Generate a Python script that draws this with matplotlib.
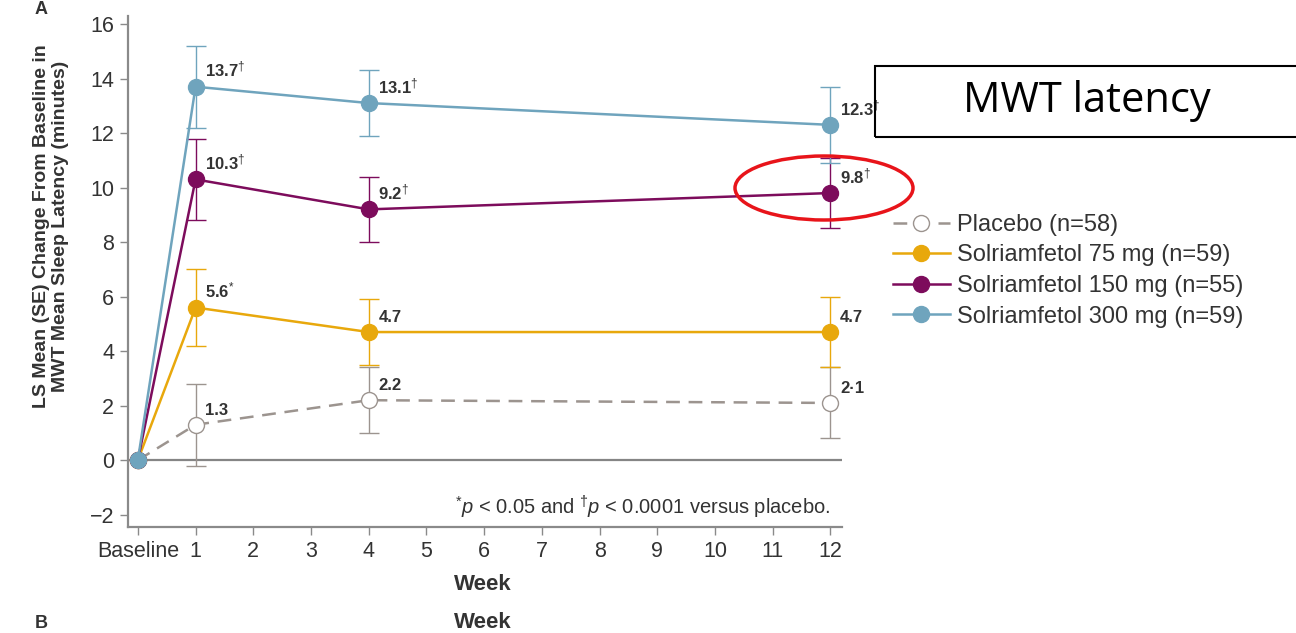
import matplotlib
matplotlib.use("Agg")
import matplotlib.pyplot as plt
from matplotlib.patches import Ellipse, Rectangle

plt.rcParams['font.family'] = ['Liberation Sans', 'DejaVu Sans']
plt.rcParams['mathtext.fontset'] = 'custom'
plt.rcParams['mathtext.rm'] = 'Liberation Sans'
plt.rcParams['mathtext.it'] = 'Liberation Sans:italic'
plt.rcParams['mathtext.bf'] = 'Liberation Sans:bold'

# Weeks of assessment (0 = baseline)
weeks = [0, 1, 4, 12]
xtick_labels = ["Baseline", "1", "2", "3", "4", "5", "6", "7", "8", "9", "10", "11", "12"]

series_names = ["Placebo (n=58)", "Solriamfetol 75 mg (n=59)",
                "Solriamfetol 150 mg (n=55)", "Solriamfetol 300 mg (n=59)"]
placebo = [0, 1.3, 2.2, 2.1]
sol75 = [0, 5.6, 4.7, 4.7]
sol150 = [0, 10.3, 9.2, 9.8]
sol300 = [0, 13.7, 13.1, 12.3]

placebo_se = [0, 1.5, 1.2, 1.3]
sol75_se = [0, 1.4, 1.2, 1.3]
sol150_se = [0, 1.5, 1.2, 1.3]
sol300_se = [0, 1.5, 1.2, 1.4]

placebo_lbl = ["", "1.3", "2.2", "2·1"]
sol75_lbl = ["", "5.6$^{*}$", "4.7", "4.7"]
sol150_lbl = ["", "10.3$^{\\dagger}$", "9.2$^{\\dagger}$", "9.8$^{\\dagger}$"]
sol300_lbl = ["", "13.7$^{\\dagger}$", "13.1$^{\\dagger}$", "12.3$^{\\dagger}$"]

c_plc = "#9c948f"
c_75 = "#e8a80c"
c_150 = "#7d0c5c"
c_300 = "#6fa4bd"
txt = "#333333"
spine_c = "#8a8a8a"

fig = plt.figure(figsize=(12.96, 6.33), dpi=100)
ax = fig.add_axes([0.0988, 0.1675, 0.5509, 0.8075])

ax.axhline(0, color="#858585", lw=1.6, zorder=1)

series = [
    (placebo, placebo_se, placebo_lbl, c_plc, "--", "white"),
    (sol75, sol75_se, sol75_lbl, c_75, "-", c_75),
    (sol150, sol150_se, sol150_lbl, c_150, "-", c_150),
    (sol300, sol300_se, sol300_lbl, c_300, "-", c_300),
]
handles = []
for (vals, se, lbls, col, ls, mfc), name in zip(series, series_names):
    ax.errorbar(weeks[1:], vals[1:], yerr=se[1:], fmt="none", ecolor=col,
                elinewidth=1.0, capsize=7, capthick=1.0, zorder=2)
    (h,) = ax.plot(weeks, vals, ls=ls, color=col, lw=1.8, marker="o",
                   markersize=11.5, markerfacecolor=mfc, markeredgecolor=col,
                   markeredgewidth=1.0,
                   dashes=(5.5, 3.5) if ls == "--" else (None, None),
                   zorder=3, label=name)
    handles.append(h)
    for x, y, s in zip(weeks, vals, lbls):
        if s:
            ax.annotate(s, (x, y), xytext=(7, 5), textcoords="offset points",
                        fontsize=12, fontweight="bold", color=txt,
                        ha="left", va="bottom", zorder=5)

ax.set_xlim(-0.17, 12.2)
ax.set_ylim(-2.45, 16.3)
ax.set_xticks(range(13))
ax.set_xticklabels(xtick_labels)
ax.set_yticks(range(-2, 17, 2))
ax.set_yticklabels(["\u22122"] + [str(v) for v in range(0, 17, 2)])
ax.tick_params(axis="both", direction="out", length=6, width=1.0, color=spine_c,
               labelsize=15.5, labelcolor=txt, pad=4)
for side in ("top", "right"):
    ax.spines[side].set_visible(False)
for side in ("left", "bottom"):
    ax.spines[side].set_color(spine_c)
    ax.spines[side].set_linewidth(1.6)

fig.text(51 / 1296, 1 - 226 / 633,
         "LS Mean (SE) Change From Baseline in\nMWT Mean Sleep Latency (minutes)",
         rotation=90, fontsize=14, fontweight="bold", color=txt,
         ha="center", va="center", multialignment="center", linespacing=1.15)
fig.text(483 / 1296, 1 - 585 / 633, "Week", fontsize=16, fontweight="bold",
         color=txt, ha="center", va="center")
fig.text(483 / 1296, 1 - 622 / 633, "Week", fontsize=16, fontweight="bold",
         color=txt, ha="center", va="center")

ax.text(12.0, -1.75, r"$^{*}\mathit{p}$ < 0.05 and $^{\dagger}\mathit{p}$ < 0.0001 versus placebo.",
        fontsize=14.5, color=txt, ha="right", va="center")

# Panel letters at the figure edges
fig.text(0.027, 0.999, "A", fontsize=13, fontweight="bold", color=txt, ha="left", va="top")
fig.text(0.027, 0.001, "B", fontsize=13, fontweight="bold", color=txt, ha="left", va="bottom")

leg = fig.legend(handles=handles, loc="upper left",
                 bbox_to_anchor=(893 / 1296, 1 - 214 / 633),
                 frameon=False, fontsize=17, handlelength=2.4, handletextpad=0.3,
                 labelspacing=0.36, borderaxespad=0, borderpad=0)
for t in leg.get_texts():
    t.set_color(txt)

# Title box and highlight ellipse
fig.patches.append(Rectangle((875 / 1296, 1 - 137 / 633), 430 / 1296, 71 / 633,
                             transform=fig.transFigure, fill=False, ec="black",
                             lw=1.5, figure=fig, clip_on=False))
fig.text(1087 / 1296, 1 - 101 / 633, "MWT latency", fontsize=30, family="Open Sans",
         color="black", ha="center", va="center")
fig.patches.append(Ellipse((824 / 1296, 1 - 188 / 633), 178 / 1296, 64 / 633,
                           transform=fig.transFigure, fill=False, ec="#e8141a",
                           lw=2.5, figure=fig))

fig.savefig("out.png", dpi=100)
